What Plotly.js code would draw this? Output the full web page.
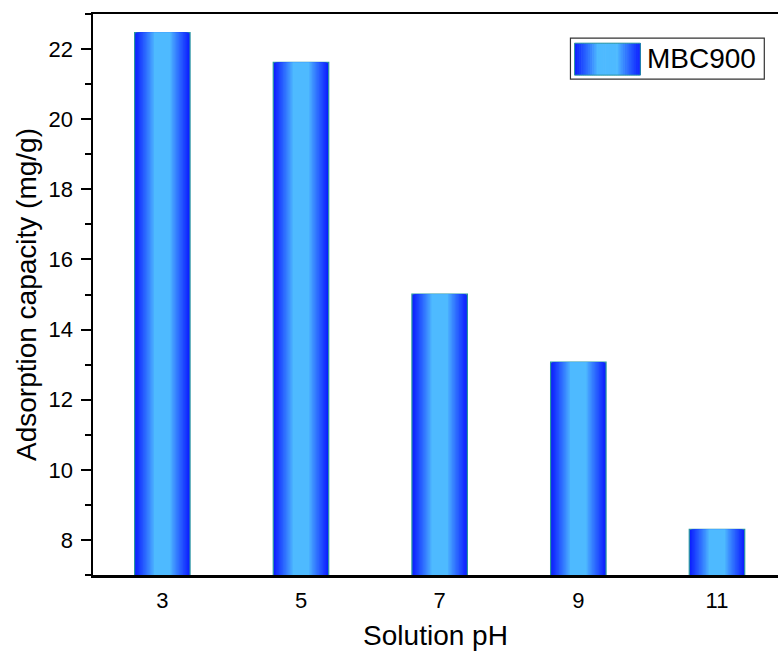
<!DOCTYPE html>
<html>
<head>
<meta charset="utf-8">
<script src="https://cdn.plot.ly/plotly-3.0.1.min.js"></script>
<style>html,body{margin:0;padding:0;background:#fff;overflow:hidden}</style>
</head>
<body>
<div id="chart" style="width:778px;height:655px"></div>
<script>
// Data
const phValues = [3, 5, 7, 9, 11];
const capacity = [22.47, 21.62, 15.01, 13.07, 8.30];
const seriesName = "MBC900";
const yTicks = [8, 10, 12, 14, 16, 18, 20, 22];

// gradient helpers (style)
const dark = [12, 30, 255];
const light = [78, 186, 255];
function mix(t) {
  const c = dark.map((d, i) => Math.round(light[i] + (d - light[i]) * t));
  return `rgb(${c[0]},${c[1]},${c[2]})`;
}
function colorAt(d) {
  if (d <= 0.3) return mix(0);
  const t = (d - 0.3) / 0.7;
  return mix(Math.pow(t, 0.9));
}

const barWidth = 0.8;
const traces = [];
const fracs = [];
for (let f = 1.0; f >= 0.299; f -= 0.05) fracs.push(f);
fracs.forEach((f, k) => {
  traces.push({
    type: 'bar',
    x: phValues,
    y: capacity,
    base: 0,
    width: phValues.map(() => barWidth * f),
    name: seriesName,
    showlegend: false,
    hoverinfo: k === 0 ? 'x+y' : 'skip',
    marker: {
      color: colorAt(f),
      line: k === 0 ? {color: 'rgb(40,150,160)', width: 1.2} : {width: 0}
    }
  });
});

// manual legend (layout shapes)
const shapes = [];
const sx0 = 0.703, sx1 = 0.799, sy0 = 0.891, sy1 = 0.948;
const nStrip = 30;
for (let i = 0; i < nStrip; i++) {
  const a = i / nStrip, b = (i + 1) / nStrip;
  const mid = (a + b) / 2;
  const d = Math.abs(mid - 0.5) * 2;
  shapes.push({
    type: 'rect', xref: 'paper', yref: 'paper',
    x0: sx0 + (sx1 - sx0) * a, x1: sx0 + (sx1 - sx0) * b + 0.001,
    y0: sy0, y1: sy1,
    fillcolor: colorAt(d), line: {width: 0}, layer: 'above'
  });
}
shapes.push({
  type: 'rect', xref: 'paper', yref: 'paper',
  x0: sx0, x1: sx1, y0: sy0, y1: sy1,
  line: {color: 'rgb(40,150,160)', width: 1}, layer: 'above'
});
shapes.push({
  type: 'rect', xref: 'paper', yref: 'paper',
  x0: 0.697, x1: 0.980, y0: 0.884, y1: 0.957,
  line: {color: '#333', width: 1.2}, fillcolor: 'rgba(255,255,255,0)', layer: 'above'
});

const layout = {
  width: 778, height: 655,
  margin: {l: 93, r: 0, t: 14, b: 80},
  paper_bgcolor: '#fff', plot_bgcolor: '#fff',
  barmode: 'overlay',
  showlegend: false,
  font: {family: 'Liberation Sans, Arial, sans-serif', color: '#000'},
  xaxis: {
    range: [2, 11.88],
    tickvals: phValues,
    ticktext: phValues.map(String),
    ticks: '',
    showgrid: false, zeroline: false,
    showline: true, linecolor: '#000', linewidth: 2.5,
    mirror: true,
    tickfont: {size: 22},
    ticklabelstandoff: 4,
    title: {text: 'Solution pH', font: {size: 28}, standoff: 14},
    fixedrange: true
  },
  yaxis: {
    range: [7, 23],
    tickvals: yTicks,
    ticktext: yTicks.map(String),
    ticks: 'outside', ticklen: 10, tickwidth: 2, tickcolor: '#000',
    minor: {dtick: 1, tick0: 7, ticks: 'outside', ticklen: 6, tickwidth: 2, tickcolor: '#000', showgrid: false},
    showgrid: false, zeroline: false,
    showline: true, linecolor: '#000', linewidth: 2.5,
    mirror: false,
    tickfont: {size: 22},
    ticklabelstandoff: 3,
    title: {text: 'Adsorption capacity (mg/g)', font: {size: 28}, standoff: 4},
    fixedrange: true
  },
  shapes: shapes,
  annotations: [{
    xref: 'paper', yref: 'paper', x: 0.806, y: 0.9205,
    xanchor: 'left', yanchor: 'middle', showarrow: false,
    text: seriesName, font: {size: 28, color: '#000'}
  }]
};

Plotly.newPlot('chart', traces, layout, {displayModeBar: false, staticPlot: true});
</script>
</body>
</html>
